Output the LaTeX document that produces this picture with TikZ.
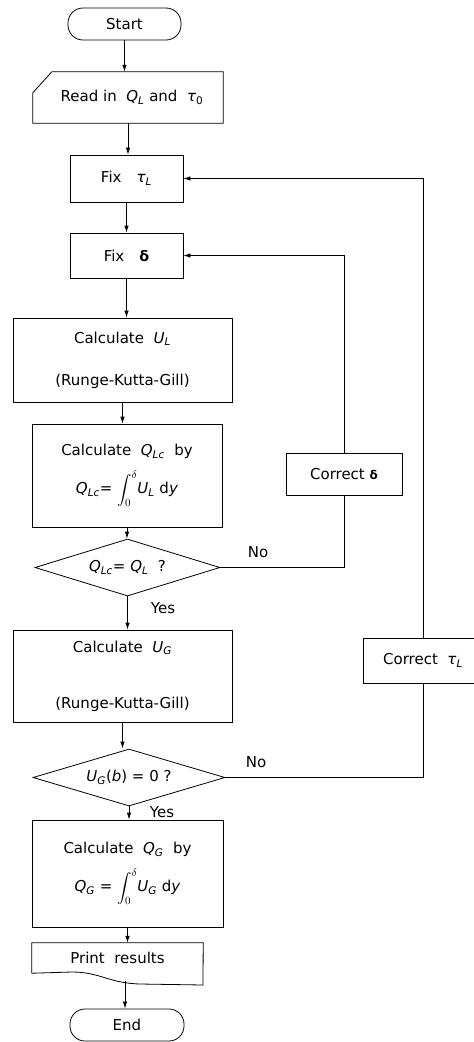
\documentclass[tikz,border=0pt]{standalone}
\usepackage{amsmath}
\usepackage{fontspec}
\setmainfont{DejaVu Sans}
\usetikzlibrary{shapes.geometric,arrows.meta}

\begin{document}
\begin{tikzpicture}[x=1pt,y=-1pt,
    box/.style={draw, line width=0.8pt, inner sep=0pt, align=center, font=\chartfont},
    term/.style={box, rounded corners=15pt, minimum height=32pt},
    test/.style={box, diamond, aspect=3.3, minimum height=57pt},
    plain/.style={inner sep=0pt, align=center, font=\chartfont},
    flow/.style={line width=0.8pt, -{Latex[length=7pt,width=4.5pt]}},
    link/.style={line width=0.8pt}]
	\def\chartfont{\fontsize{15pt}{18pt}\selectfont}
	\def\sv#1#2{\textit{#1}\textsubscript{\textit{#2}}} % variable with subscript
	\useasboundingbox (0,0) rectangle (474,1042);
	% main column
	\node[term, minimum width=113pt] (start) at (124.5,24) {Start};
	\node[plain, minimum width=190pt, minimum height=51pt] (read) at (128,97.5) {\hspace*{8pt}Read in\ \ \sv{Q}{L} and\ \ \textit{τ}\textsubscript{0}};
	\draw[link] ([yshift=-21pt]read.north west) -- ([xshift=19pt]read.north west) -- (read.north east) -- (read.south east) -- (read.south west) -- cycle;
	\node[box, minimum width=113pt, minimum height=47pt] (fixtau) at (126.5,178.5) {Fix\quad \sv{τ}{L}};
	\node[box, minimum width=113pt, minimum height=45pt] (fixdelta) at (126.5,255.5) {Fix\quad {\Large\bfseries δ}};
	\node[box, minimum width=219pt, minimum height=84pt] (calcul) at (122.5,360) {Calculate\ \ \sv{U}{L}\\[24pt](Runge-Kutta-Gill)};
	\node[box, minimum width=190pt, minimum height=103pt] (calcqlc) at (127,475.5) {Calculate\ \ \sv{Q}{Lc}\ \ by\\[11pt]\sv{Q}{Lc}= $\displaystyle\int_0^{\delta}$\sv{U}{L}\ d\textit{y}};
	\node[test, minimum width=185pt] (testql) at (127.5,567.5) {\sv{Q}{Lc}= \sv{Q}{L}\ \ ?};
	\node[box, minimum width=219pt, minimum height=92pt] (calcug) at (122.5,676) {Calculate\ \ \sv{U}{G}\\[38pt](Runge-Kutta-Gill)};
	\node[test, minimum width=192pt] (testug) at (129,777.5) {\sv{U}{G}(\textit{b}) = 0 ?};
	\node[box, minimum width=191pt, minimum height=107pt] (calcqg) at (127.5,873.5) {Calculate\ \ \sv{Q}{G}\ \ by\\[11pt]\sv{Q}{G} = $\displaystyle\int_0^{\delta}$\sv{U}{G}\ d\textit{y}};
	\node[plain, minimum width=171pt, minimum height=30pt] (print) at (117.5,958) {Print\ \ results};
	\draw[link] (print.north west) -- (print.north east) -- (203,985) -- (140,984) .. controls (108,983) and (100,972) .. (72,972) -- (print.south west) -- cycle;
	\coordinate (printout) at (125,981);
	\node[term, minimum width=114pt] (end) at (127,1025) {End};
	% side boxes
	\node[box, minimum width=116pt, minimum height=42pt] (corrdelta) at (344,474) {Correct {\large\bfseries δ}};
	\node[box, minimum width=120pt, minimum height=45pt] (corrtau) at (423,660.5) {Correct\ \ \sv{τ}{L}};
	% labels
	\node[plain] (no1) at (258,552) {No};
	\node[plain] (yes1) at (163,608) {Yes};
	\node[plain] (no2) at (256,762) {No};
	\node[plain] (yes2) at (162,812) {Yes};
	% connectors
	\draw[flow] (start.south) -- (start.south |- read.north);
	\draw[flow] (read.south) -- (read.south |- fixtau.north);
	\draw[flow] (fixtau.south) -- (fixtau.south |- fixdelta.north);
	\draw[flow] (fixdelta.south) -- (fixdelta.south |- calcul.north);
	\draw[flow] (calcul.south) -- (calcul.south |- calcqlc.north);
	\draw[flow] (calcqlc.south) -- (calcqlc.south |- testql.north);
	\draw[flow] (testql.south) -- (testql.south |- calcug.north);
	\draw[flow] (calcug.south) -- (calcug.south |- testug.north);
	\draw[flow] (testug.south) -- (testug.south |- calcqg.north);
	\draw[flow] (calcqg.south) -- (calcqg.south |- print.north);
	\draw[flow] (printout) -- (printout |- end.north);
	\draw[link] (testql.east) -| (corrdelta.south);
	\draw[flow] (corrdelta.north) |- (fixdelta.east);
	\draw[link] (testug.east) -| (corrtau.south);
	\draw[flow] (corrtau.north) |- (fixtau.east);
\end{tikzpicture}
\end{document}
